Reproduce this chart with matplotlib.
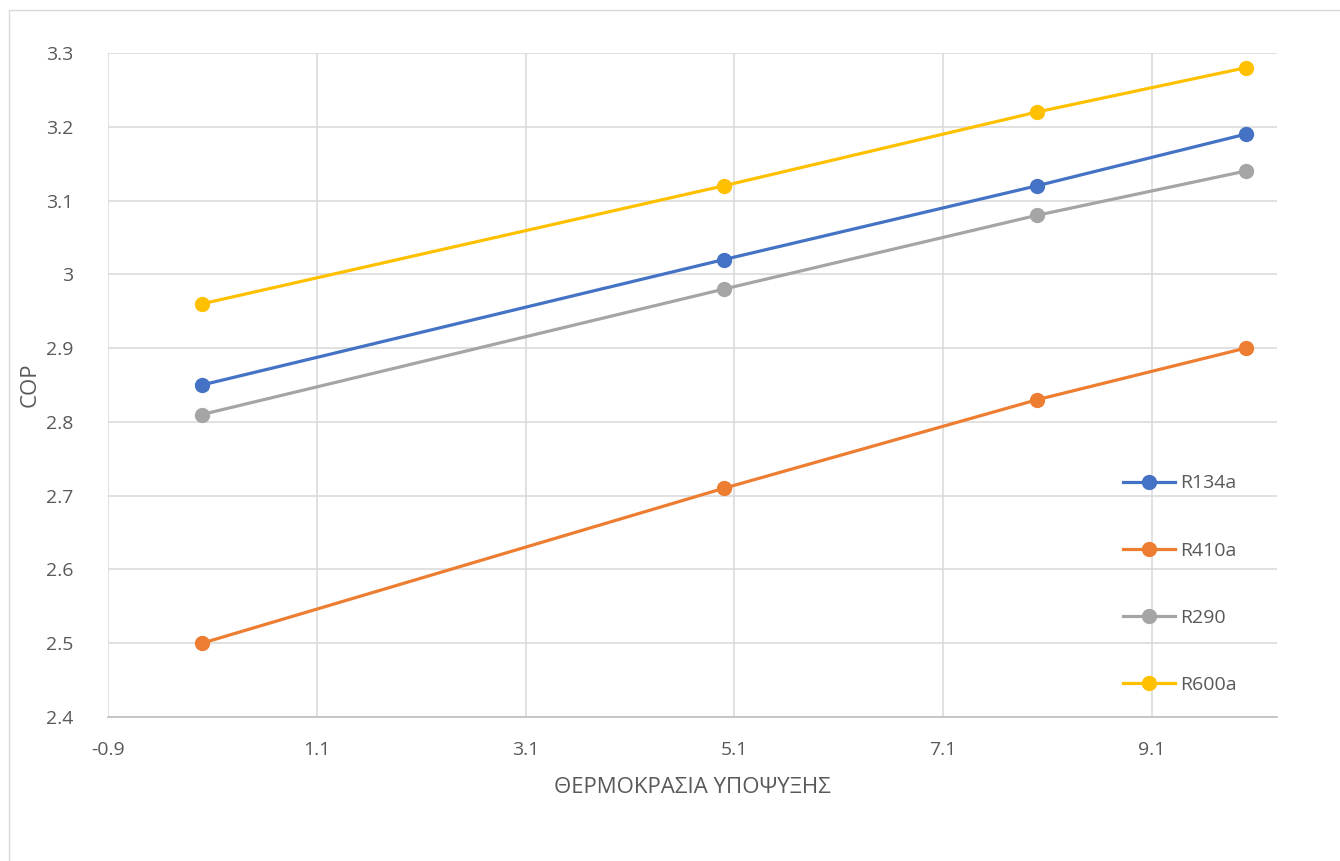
import matplotlib
matplotlib.use("Agg")
import matplotlib.pyplot as plt
from matplotlib.patches import Rectangle

# Subcooling temperature values and COP for each refrigerant
subcooling = [0, 5, 8, 10]
cop_r134a = [2.85, 3.02, 3.12, 3.19]
cop_r410a = [2.50, 2.71, 2.83, 2.90]
cop_r290 = [2.81, 2.98, 3.08, 3.14]
cop_r600a = [2.96, 3.12, 3.22, 3.28]

series_names = ["R134a", "R410a", "R290", "R600a"]
series_colors = ["#4472C4", "#ED7D31", "#A5A5A5", "#FFC000"]

x_ticks = [-0.9, 1.1, 3.1, 5.1, 7.1, 9.1]
y_ticks = [2.4, 2.5, 2.6, 2.7, 2.8, 2.9, 3.0, 3.1, 3.2, 3.3]
y_tick_labels = ["2.4", "2.5", "2.6", "2.7", "2.8", "2.9", "3", "3.1", "3.2", "3.3"]

plt.rcParams["font.family"] = ["Open Sans", "DejaVu Sans"]
text_color = "#595959"
fs = 14
title_fs = 16

W, H = 1340, 861
fig = plt.figure(figsize=(W / 100, H / 100), dpi=100)

# outer chart border
fig.patches.append(Rectangle((9 / W, -0.01), 1.02 - 9 / W, 1 - 10 / H + 0.01,
                             transform=fig.transFigure, fill=False,
                             edgecolor="#d9d9d9", linewidth=1.0))

left, right, top, bottom = 108, 1277, 53, 717
ax = fig.add_axes([left / W, 1 - bottom / H, (right - left) / W, (bottom - top) / H])

all_values = [cop_r134a, cop_r410a, cop_r290, cop_r600a]
for name, vals, col in zip(series_names, all_values, series_colors):
    ax.plot(subcooling, vals, color=col, linewidth=2.3, marker="o",
            markersize=10, label=name, zorder=3)

ax.set_xlim(-0.9, 10.3)
ax.set_ylim(2.4, 3.3)
ax.set_xticks(x_ticks)
ax.set_xticklabels([f"{t:.1f}" for t in x_ticks])
ax.set_yticks(y_ticks)
ax.set_yticklabels(y_tick_labels)

ax.grid(True, color="#d9d9d9", linewidth=1.1, zorder=0)
ax.set_axisbelow(True)
for s in ["top", "right", "left"]:
    ax.spines[s].set_visible(False)
ax.spines["bottom"].set_color("#bfbfbf")
ax.spines["bottom"].set_linewidth(1.2)
ax.tick_params(length=0, labelsize=fs, colors=text_color)
ax.tick_params(axis="x", pad=17.5)
ax.tick_params(axis="y", pad=25)

ax.set_xlabel("ΘΕΡΜΟΚΡΑΣΙΑ ΥΠΟΨΥΞΗΣ", fontsize=title_fs, color=text_color, labelpad=12.5)
ax.set_ylabel("COP", fontsize=title_fs, color=text_color)
ax.yaxis.set_label_coords((41 - left) / (right - left), 0.5)

leg = ax.legend(loc="upper left", bbox_to_anchor=((1105 - left) / (right - left), (bottom - 457) / (bottom - top)),
                frameon=False, fontsize=fs, labelcolor=text_color,
                handlelength=2.7, handletextpad=0.25, labelspacing=2.53)

fig.savefig("out.png", dpi=100, facecolor="white")
